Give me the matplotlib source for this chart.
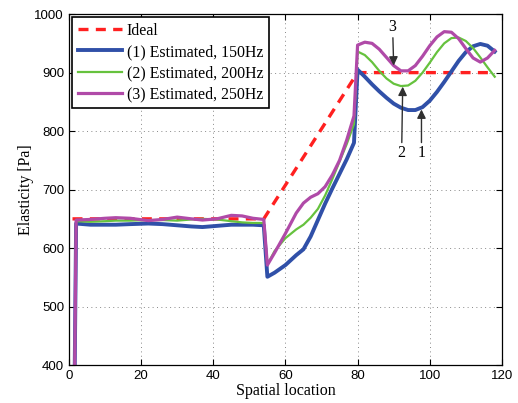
import matplotlib
matplotlib.use("Agg")
import matplotlib.pyplot as plt

# ideal elasticity profile
ideal_x = [1, 54, 80, 117]
ideal_y = [650, 650, 900, 900]

# estimated profiles: shared sampling positions
x_left = [1, 2, 6, 10, 13, 17, 22, 26, 30, 34, 37, 41, 45, 48, 51, 54]
x_mid = [55, 57, 60, 63, 65, 67, 69, 71, 73, 75, 77, 79]
x_right = [80, 82, 84, 86, 88, 90, 92, 94, 96, 98, 100, 102, 104, 106,
           108, 110, 112, 114, 116, 118]
pos = x_left + x_mid + x_right

est_150 = ([0, 642, 640, 640, 640, 641, 642, 641, 639, 637, 636, 638, 640,
            640, 640, 639]
           + [551, 558, 571, 588, 598, 620, 648, 676, 702, 727, 752, 780]
           + [905, 893, 880, 868, 857, 847, 840, 836, 836, 841, 852, 867,
              884, 902, 920, 935, 945, 949, 946, 936])
est_200 = ([0, 646, 645, 646, 647, 647, 648, 648, 647, 649, 650, 649, 646,
            644, 643, 643]
           + [572, 595, 617, 632, 640, 652, 667, 690, 718, 748, 778, 812]
           + [936, 930, 918, 903, 890, 881, 877, 878, 886, 900, 917, 935,
              950, 959, 960, 954, 942, 926, 909, 893])
est_250 = ([0, 648, 649, 651, 652, 651, 647, 649, 653, 650, 648, 650, 656,
            655, 651, 649]
           + [571, 592, 625, 660, 677, 687, 693, 705, 725, 750, 785, 826]
           + [947, 952, 950, 940, 926, 912, 903, 903, 912, 928, 946, 961,
              970, 969, 958, 941, 925, 918, 925, 938])

serif = "Liberation Serif"
plt.rcParams["font.family"] = ["Liberation Sans", "DejaVu Sans"]

fig = plt.figure(figsize=(5.18, 4.03), dpi=100)
ax = fig.add_axes([0.133, 0.094, 0.836, 0.871])

ax.plot(ideal_x, ideal_y, "--", color="#ff2020", lw=2.4, dashes=(3, 2.2),
        label="Ideal")
ax.plot(pos, est_150, color="#3050a8", lw=2.8, label="(1) Estimated, 150Hz")
ax.plot(pos, est_200, color="#66c23e", lw=1.6, label="(2) Estimated, 200Hz")
ax.plot(pos, est_250, color="#b04aa8", lw=2.3, label="(3) Estimated, 250Hz")

# arrows pointing at the dips of each estimate
arrow = dict(arrowstyle="-|>", color="#303030", lw=1.0,
             mutation_scale=13, shrinkA=0, shrinkB=0)
ax.annotate("3", xy=(90, 912), xytext=(89.7, 978), ha="center",
            va="center", fontsize=11.5, family=serif, arrowprops=arrow)
ax.annotate("2", xy=(92.5, 876), xytext=(92.2, 762), ha="center",
            va="center", fontsize=11.5, family=serif, arrowprops=arrow)
ax.annotate("1", xy=(97.7, 837), xytext=(97.7, 762), ha="center",
            va="center", fontsize=11.5, family=serif, arrowprops=arrow)

ax.set_xlim(0, 120)
ax.set_ylim(400, 1000)
ax.set_xticks(range(0, 121, 20))
ax.set_yticks(range(400, 1001, 100))
ax.tick_params(direction="in", top=True, right=True, labelsize=9.5,
               length=4, width=0.8)
ax.grid(True, linestyle=(0, (1, 3.5)), color="#888888", lw=0.7)
for s in ax.spines.values():
    s.set_linewidth(0.9)

ax.set_xlabel("Spatial location", family=serif, fontsize=11.5, labelpad=1)
ax.set_ylabel("Elasticity [Pa]", family=serif, fontsize=11.5, labelpad=0)

leg = ax.legend(loc="upper left", prop={"family": serif, "size": 11.4},
                handlelength=2.8, handletextpad=0.3, labelspacing=0.33,
                borderpad=0.35, borderaxespad=0.2, fancybox=False,
                framealpha=1, edgecolor="black")
leg.get_frame().set_linewidth(1.2)

fig.savefig("out.png", dpi=100)
